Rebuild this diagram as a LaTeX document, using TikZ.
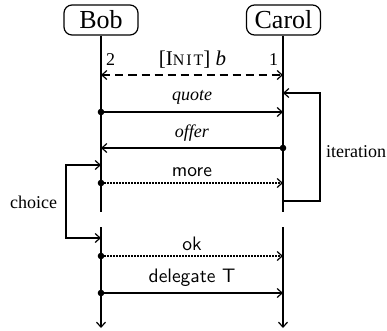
\documentclass[tikz,border=0pt]{standalone}
\usepackage{fontspec}
\setmainfont{Liberation Serif}
\setsansfont{lmsans10-regular.otf}
\usetikzlibrary{arrows.meta}
\newcommand{\fakesc}[1]{{\fontsize{16}{19}\selectfont\addfontfeature{LetterSpace=12}#1}}
\tikzset{
  actor/.style={draw, rounded corners=8pt, line width=1.2pt, minimum width=74pt,
    minimum height=30pt, inner sep=0pt, font=\fontsize{26}{30}\selectfont},
  lbl/.style={inner sep=0pt, anchor=base, font=\fontsize{18}{22}\selectfont},
  sflbl/.style={lbl, font=\fontsize{19.5}{23}\selectfont\sffamily},
  life/.style={line width=1.2pt},
  tip/.tip={Straight Barb[length=5pt,width=9pt]},
  msg/.style={line width=1.2pt, -tip},
  dotline/.style={dash pattern=on 1.5pt off 1.5pt},
  dashline/.style={dash pattern=on 8pt off 5pt},
  src/.style={circle, fill, inner sep=0pt, minimum size=6.6pt},
}
\begin{document}
\begin{tikzpicture}[x=1pt,y=-1pt]
\useasboundingbox (0,0) rectangle (387,330);

% participants
\node[actor] (bob) at (101,20) {Bob};
\node[actor] (carol) at (283.5,20) {Carol};

% lifeline coordinates
\coordinate (bobA) at (101,212);
\coordinate (bobB) at (101,227);
\coordinate (bobEnd) at (101,328);
\coordinate (carA) at (283,212);
\coordinate (carB) at (283,227);
\coordinate (carEnd) at (283,328);

\draw[life] (bob.south) -- (bobA);
\draw[msg] (bobB) -- (bobEnd);
\draw[life] (carol.south -| carA) -- (carA);
\draw[msg] (carB) -- (carEnd);

% message end points
\foreach \n/\y in {init/75, quote/112, offer/148, more/183, ok/256, del/293}{
  \coordinate (b-\n) at (101,\y);
  \coordinate (c-\n) at (283,\y);
}

% session initiation
\draw[line width=1.2pt, dashline, tip-tip] (b-init) -- (c-init);
\node[lbl] (two) at (110.5,65) {2};
\node[lbl] (one) at (273.5,65) {1};
\node[lbl, font=\fontsize{21}{25}\selectfont] (init) at (192.5,65) {[I\fakesc{NIT}] \textit{b}};

% messages
\draw[msg] (b-quote) -- (c-quote);
\node[src] (dq) at (b-quote) {};
\node[lbl] (lquote) at (192,100) {\textit{quote}};

\draw[msg] (c-offer) -- (b-offer);
\node[src] (do) at (c-offer) {};
\node[lbl] (loffer) at (192,137) {\textit{offer}};

\draw[msg, dotline] (b-more) -- (c-more);
\node[src] (dm) at (b-more) {};
\node[sflbl] (lmore) at (192,176) {more};

\draw[msg, dotline] (b-ok) -- (c-ok);
\node[src] (dk) at (b-ok) {};
\node[sflbl] (lok) at (192,250) {ok};

\draw[msg] (b-del) -- (c-del);
\node[src] (dd) at (b-del) {};
\node[sflbl] (ldel) at (192,282) {delegate T};

% iteration loop on Carol
\coordinate (c-itTop) at (283,93);
\coordinate (c-itBot) at (283,201);
\coordinate (itx) at (320,0);
\draw[msg] (c-itBot) -- (c-itBot -| itx) -- (c-itTop -| itx) -- (c-itTop);
\node[lbl, anchor=base west] (liter) at (326,157) {iteration};

% choice between branches on Bob
\coordinate (b-chTop) at (101,165);
\coordinate (b-chBot) at (101,238);
\coordinate (chx) at (66,0);
\draw[line width=1.2pt, tip-tip] (b-chTop) -- (b-chTop -| chx) -- (b-chBot -| chx) -- (b-chBot);
\node[lbl] (lchoice) at (33.5,208) {choice};
\end{tikzpicture}
\end{document}
